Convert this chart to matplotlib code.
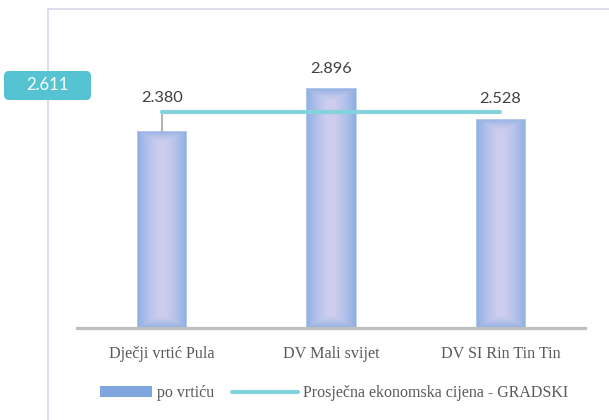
import numpy as np
import matplotlib
matplotlib.use("Agg")
import matplotlib.pyplot as plt
from matplotlib.patches import FancyBboxPatch, Patch
from matplotlib.lines import Line2D
from matplotlib.legend_handler import HandlerLine2D

categories = ["Dječji vrtić Pula", "DV Mali svijet", "DV SI Rin Tin Tin"]
values = [2380, 2896, 2528]
average = 2611
series_bar = "po vrtiću"
series_line = "Prosječna ekonomska cijena - GRADSKI"

def fmt(v):
    return f"{v:,}".replace(",", ".")

W, H = 609, 420
fig = plt.figure(figsize=(W / 100, H / 100), dpi=100)
fig.patch.set_facecolor("white")

# axes placement in pixels
left_px, right_px, base_px = 77, 585, 328
ymax = 3500
scale = 0.0828  # px per unit
ax_h = ymax * scale
ax = fig.add_axes([left_px / W, (H - base_px) / H, (right_px - left_px) / W, ax_h / H])
ax.set_xlim(-0.5, 2.5)
ax.set_ylim(0, ymax)
ax.patch.set_alpha(0)
for s in ["left", "right", "top"]:
    ax.spines[s].set_visible(False)
ax.spines["bottom"].set_color("#BFBFBF")
ax.spines["bottom"].set_linewidth(2.3)
ax.spines["bottom"].set_zorder(5)
ax.set_yticks([])
x = np.arange(len(categories))
ax.set_xticks(x)
ax.set_xticklabels(categories, family="Liberation Serif", fontsize=11.6, color="#595959")
ax.tick_params(axis="x", length=0, pad=13)

# bars with gradient fill
bw = 0.29
edge = np.array([0x8C, 0xAF, 0xE3]) / 255
center = np.array([0xD0, 0xCE, 0xEE]) / 255
px_per_x = (right_px - left_px) / 3
bars = ax.bar(x, values, width=bw, color="none", edgecolor="#B9CCEE", linewidth=0.6, zorder=3)
for xi, v, b in zip(x, values, bars):
    nx = int(round(bw * px_per_x))
    ny = int(round(v * scale))
    cols = np.arange(nx) + 0.5
    rows = np.arange(ny) + 0.5
    dx = np.minimum(cols, nx - cols)[None, :]
    dy = np.minimum(rows, ny - rows)[:, None]
    t = np.clip(np.maximum(1 - dx / (nx / 2), 1 - dy / 14), 0, 1) ** 1.5
    img = center[None, None, :] + (edge - center)[None, None, :] * t[:, :, None]
    im = ax.imshow(img, extent=(xi - bw / 2, xi + bw / 2, 0, v), aspect="auto",
                   origin="upper", zorder=2, interpolation="bilinear")
    im.set_clip_path(b)

# average line
ax.plot([x[0], x[-1]], [average, average], color="#84D2DC", linewidth=3.0,
        solid_capstyle="round", zorder=4)
# leader line for first label
ax.plot([x[0], x[0]], [values[0], average], color="#A6A6A6", linewidth=1.2, zorder=3)

# value labels
offsets = [33, 19, 20]
for xi, v, off in zip(x, values, offsets):
    ax.annotate(fmt(v), (xi, v), xytext=(0, off), textcoords="offset pixels",
                ha="center", va="center", family="Lato", fontsize=11.8, color="#404040")

# average label box
box = FancyBboxPatch((0.04, (H - 100) / 100), 0.87, 0.29,
                     boxstyle="round,pad=0,rounding_size=0.05",
                     transform=fig.dpi_scale_trans, facecolor="#56C3D3",
                     edgecolor="none", zorder=10)
fig.add_artist(box)
fig.text(47.5 / W, 1 - 85.5 / H, fmt(average), ha="center", va="center",
         family="Lato", fontsize=12, color="white", zorder=11)

# chart border
fig.add_artist(Line2D([48 / W, 48 / W], [1 - 9 / H, 0], transform=fig.transFigure,
                      color="#D9D5EA", linewidth=1.2))
fig.add_artist(Line2D([48 / W, 1], [1 - 9 / H, 1 - 9 / H], transform=fig.transFigure,
                      color="#D9D5EA", linewidth=1.2))


class LongLineHandler(HandlerLine2D):
    def create_artists(self, legend, orig_handle, xdescent, ydescent, width, height,
                       fontsize, trans):
        extra = 0.25 * width
        arts = super().create_artists(legend, orig_handle, xdescent + extra, ydescent,
                                      width + extra, height, fontsize, trans)
        return arts


# legend
line_handle = Line2D([], [], color="#84D2DC", linewidth=3.0, solid_capstyle="round",
                     label=series_line)
handles = [Patch(facecolor="#7FA6DE", edgecolor="none", label=series_bar), line_handle]
leg = fig.legend(handles=handles, loc="center", bbox_to_anchor=(334 / W, 1 - 393 / H),
                 ncol=2, frameon=False, prop={"family": "Liberation Serif", "size": 11.5},
                 handlelength=3.3, handleheight=0.62, handletextpad=0.3, columnspacing=1.95,
                 handler_map={line_handle: LongLineHandler()})
for t in leg.get_texts():
    t.set_color("#595959")

fig.savefig("out.png", dpi=100, facecolor="white")
